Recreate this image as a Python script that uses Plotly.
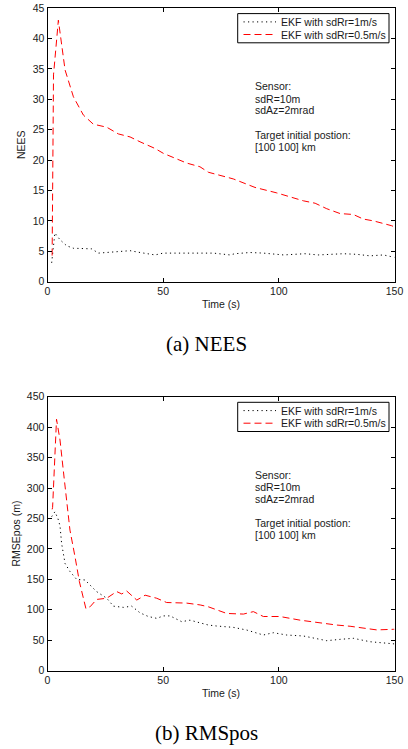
import plotly.graph_objects as go

# ---------------- data ----------------
# NEES, EKF with sdRr=1m/s (dotted black)
t_nees_1 = [1.8, 3.2, 5.4, 8.3, 11.2, 16, 19.1, 22, 25.6, 31.3, 35.7, 40, 46.5, 50,
            57.3, 65.9, 71.7, 78.9, 81, 87.5, 93.3, 102, 111.3, 117, 127.9, 133.7,
            139.4, 145.2, 148.8, 150]
nees_1 = [3.1, 8.0, 6.9, 5.9, 5.5, 5.4, 5.4, 4.7, 4.8, 5.0, 5.1, 4.8, 4.4, 4.7,
          4.7, 4.8, 4.7, 4.4, 4.6, 4.8, 4.7, 4.4, 4.6, 4.4, 4.6, 4.5,
          4.25, 4.4, 4.05, 4.0]

# NEES, EKF with sdRr=0.5m/s (dashed red)
t_nees_05 = [2.0, 2.6, 4.7, 7.6, 11.2, 15.5, 19.8, 25.6, 30.6, 35.7, 40, 46.5, 50.1,
             60.2, 65.9, 69.5, 80.3, 89.7, 99.1, 105.6, 110.6, 115.7, 120.7, 126.5,
             132.2, 136.5, 140.9, 148.8, 150]
nees_05 = [4.3, 34.0, 43.0, 34.8, 30.4, 27.4, 25.9, 25.4, 24.3, 23.8, 23.0, 21.9, 21.1,
           19.5, 18.9, 18.0, 16.9, 15.5, 14.6, 13.9, 13.3, 12.9, 12.0, 11.2,
           11.05, 10.3, 10.0, 9.2, 9.0]

# RMSEpos, EKF with sdRr=1m/s (dotted black)
t_rmse_1 = [1.8, 3.2, 4.5, 5.4, 6.1, 6.8, 7.6, 9.7, 12.6, 16.2, 18.4, 21.2, 25.6, 28.5,
            32.8, 36.4, 40, 43.6, 47.2, 50.1, 53, 58, 61.6, 65.9, 69.5, 73.1, 80.3,
            86.1, 93.3, 97.6, 103.4, 110.6, 120.7, 126.5, 132.2, 139.4, 148, 150]
rmse_1 = [253, 261, 250, 238, 209, 193, 176, 163, 150, 149, 141, 130, 119, 106,
          104, 106, 95, 89, 86, 90, 90, 80.5, 83, 79, 75, 73.4, 71.2,
          66.8, 58.6, 62.4, 58.6, 57, 49.3, 51.5, 53.2, 47.6, 43.8, 44]

# RMSEpos, EKF with sdRr=0.5m/s (dashed red)
t_rmse_05 = [2.0, 2.2, 3.9, 5.4, 6.8, 8.3, 9.7, 11.9, 13.8, 16.6, 18.4, 21.2, 25.6, 29.9,
             32.1, 34.2, 38.6, 42.2, 47.2, 51.5, 60.2, 66, 69.5, 73.1, 77.5, 84.7, 89,
             93.3, 100.5, 109.2, 116.4, 125, 130.8, 142.3, 149.5, 150]
rmse_05 = [265, 268, 413, 379, 330, 280, 231, 187, 146, 102, 105, 117, 119, 130,
           126, 131, 116, 124, 119, 112, 111, 108, 105, 100, 94, 93, 97,
           89, 89, 83, 79, 75, 73, 67, 68, 68]

x_ticks = [0, 50, 100, 150]
nees_ticks = [0, 5, 10, 15, 20, 25, 30, 35, 40, 45]
rmse_ticks = [0, 50, 100, 150, 200, 250, 300, 350, 400, 450]

legend_labels = ["EKF with sdRr=1m/s", "EKF with sdRr=0.5m/s"]
info_lines = ["Sensor:", "sdR=10m", "sdAz=2mrad", "Target initial postion:", "[100 100] km"]
captions = ["(a) NEES", "(b) RMSpos"]
y_titles = ["NEES", "RMSEpos (m)"]
x_title = "Time (s)"

# ---------------- layout helpers (pixel -> paper) ----------------
W, H = 408, 749
def fx(p):
    return p / W
def fy(p):
    return 1 - p / H

AX_L, AX_R = 47.5, 394.5
PANELS = [(8.0, 281.7), (396.7, 670.7)]  # (top, bottom) pixel rows of each axes box

SANS = "Liberation Sans, Arial, Helvetica, sans-serif"
SERIF = "Liberation Serif, Times New Roman, serif"
TXT = "#1a1a1a"

DOT = dict(color="black", width=1, dash="1.2px,3.3px")
DASH = dict(color="#ff0000", width=1, dash="7px,4px")

fig = go.Figure()
fig.add_trace(go.Scatter(x=t_nees_1, y=nees_1, mode="lines", line=DOT,
                         name=legend_labels[0], xaxis="x", yaxis="y", showlegend=False))
fig.add_trace(go.Scatter(x=t_nees_05, y=nees_05, mode="lines", line=DASH,
                         name=legend_labels[1], xaxis="x", yaxis="y", showlegend=False))
fig.add_trace(go.Scatter(x=t_rmse_1, y=rmse_1, mode="lines", line=DOT,
                         name=legend_labels[0], xaxis="x2", yaxis="y2", showlegend=False))
fig.add_trace(go.Scatter(x=t_rmse_05, y=rmse_05, mode="lines", line=DASH,
                         name=legend_labels[1], xaxis="x2", yaxis="y2", showlegend=False))

axis_common = dict(showline=True, linecolor="black", linewidth=1, mirror="ticks",
                   ticks="inside", ticklen=4, tickwidth=1, tickcolor="black",
                   showgrid=False, zeroline=False, automargin=False,
                   tickfont=dict(family=SANS, size=10.5, color=TXT))

layout = dict(
    width=W, height=H, margin=dict(l=0, r=0, t=0, b=0),
    paper_bgcolor="white", plot_bgcolor="white", showlegend=False,
    xaxis=dict(axis_common, domain=[fx(AX_L), fx(AX_R)], anchor="y",
               range=[0, 150], tickvals=x_ticks),
    yaxis=dict(axis_common, domain=[fy(PANELS[0][1]), fy(PANELS[0][0])], anchor="x",
               range=[0, 45], tickvals=nees_ticks),
    xaxis2=dict(axis_common, domain=[fx(AX_L), fx(AX_R)], anchor="y2",
                range=[0, 150], tickvals=x_ticks),
    yaxis2=dict(axis_common, domain=[fy(PANELS[1][1]), fy(PANELS[1][0])], anchor="x2",
                range=[0, 450], tickvals=rmse_ticks),
)
fig.update_layout(**layout)

annotations = []
shapes = []
info_offsets = [78.2, 90.6, 102.3, 126.7, 138.5]
ytitle_x = [21.2, 15.8]
for i, (top, bot) in enumerate(PANELS):
    # axis titles
    annotations.append(dict(text=x_title, x=fx((AX_L + AX_R) / 2), y=fy(bot + 22),
                            xref="paper", yref="paper", showarrow=False,
                            xanchor="center", yanchor="middle",
                            font=dict(family=SANS, size=10.5, color=TXT)))
    annotations.append(dict(text=y_titles[i], x=fx(ytitle_x[i]), y=fy((top + bot) / 2),
                            xref="paper", yref="paper", showarrow=False, textangle=-90,
                            xanchor="center", yanchor="middle",
                            font=dict(family=SANS, size=10.5, color=TXT)))
    # caption
    annotations.append(dict(text=captions[i], x=fx(206), y=fy(bot + 62.5),
                            xref="paper", yref="paper", showarrow=False,
                            xanchor="center", yanchor="middle",
                            font=dict(family=SERIF, size=21, color="black")))
    # info text block
    for line, off in zip(info_lines, info_offsets):
        annotations.append(dict(text=line, x=fx(252.7), y=fy(top + off),
                                xref="paper", yref="paper", showarrow=False,
                                xanchor="left", yanchor="middle",
                                font=dict(family=SANS, size=10.5, color=TXT)))
    # legend box
    shapes.append(dict(type="rect", xref="paper", yref="paper",
                       x0=fx(237.7), x1=fx(389), y0=fy(top + 34.8), y1=fy(top + 5.6),
                       line=dict(color="black", width=1), fillcolor="white", layer="above"))
    rows = [top + 13.9, top + 26.5]
    styles = [DOT, DASH]
    for lab, ry, st in zip(legend_labels, rows, styles):
        shapes.append(dict(type="line", xref="paper", yref="paper",
                           x0=fx(243.5), x1=fx(276), y0=fy(ry), y1=fy(ry),
                           line=st, layer="above"))
        annotations.append(dict(text=lab, x=fx(278.5), y=fy(ry),
                                xref="paper", yref="paper", showarrow=False,
                                xanchor="left", yanchor="middle",
                                font=dict(family=SANS, size=10.5, color=TXT)))

fig.update_layout(annotations=annotations, shapes=shapes)
fig.write_html("out.html",
               config={"displayModeBar": False},
               post_script="document.body.style.margin='0';document.body.style.padding='0';")
